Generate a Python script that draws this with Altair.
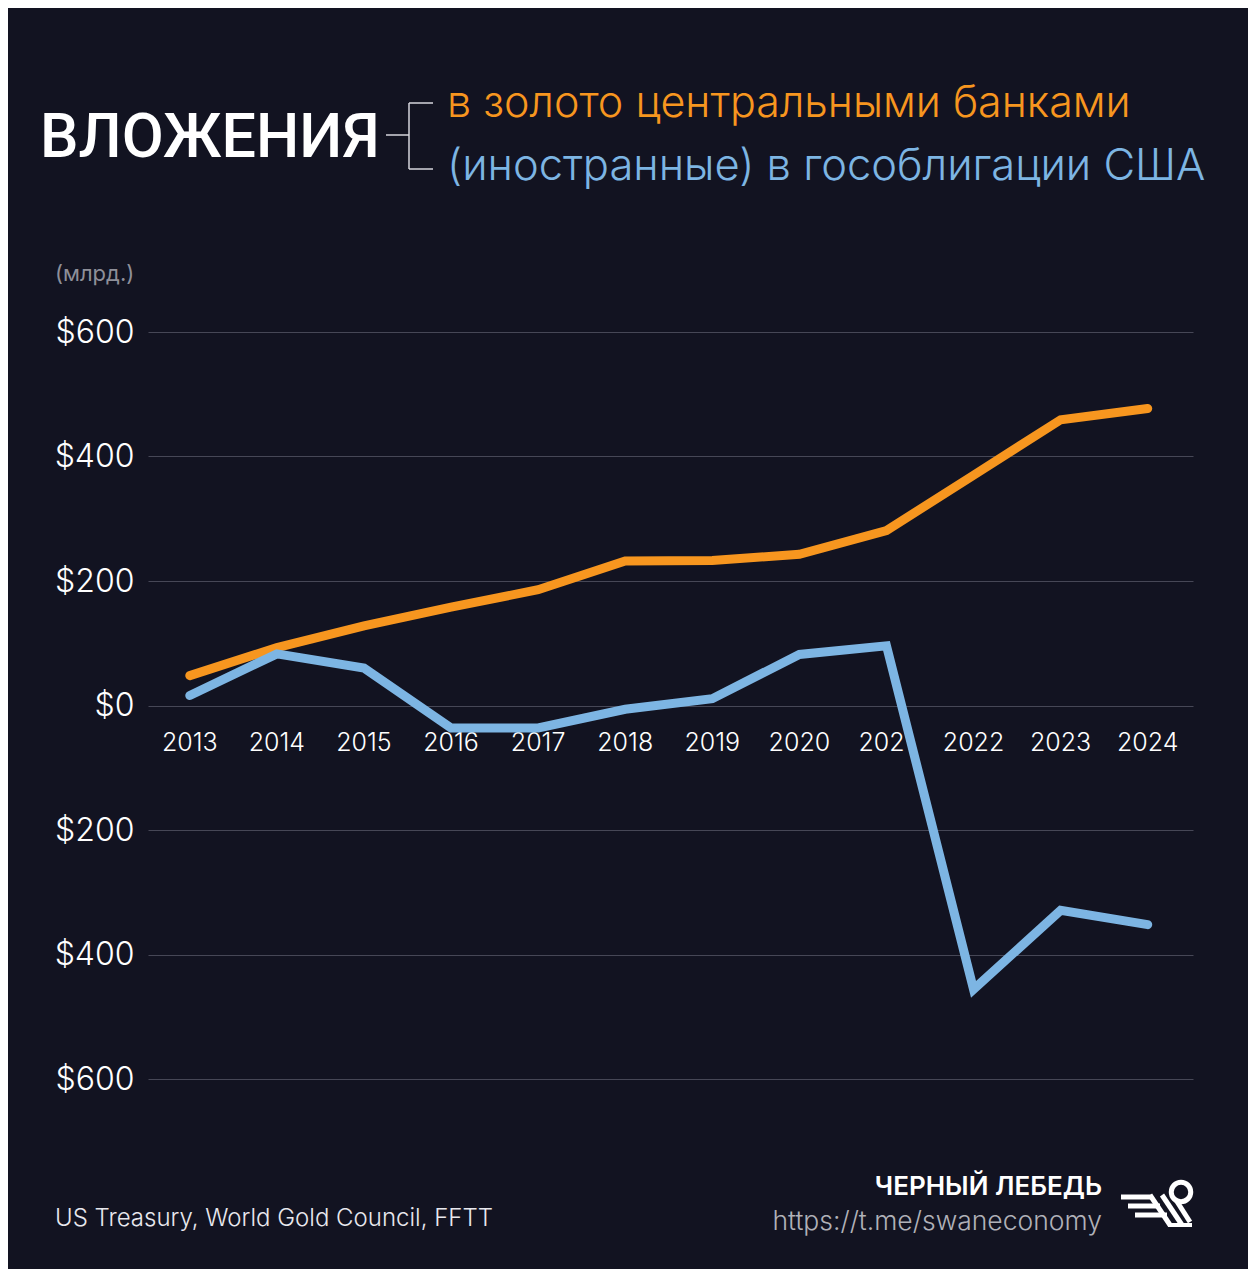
import altair as alt
import pandas as pd

# ---- data ----
years = list(range(2013, 2025))
gold = [48, 93, 128, 158, 186, 232, 233, 243, 281, 370, 459, 477]
treasuries = [16, 83, 60, -36, -36, -6, 11, 82, 96, -456, -329, -352]
series_names = ["в золото центральными банками", "(иностранные) в гособлигации США"]
series_colors = ["#f7961f", "#7db5e3"]
y_ticks = [-600, -400, -200, 0, 200, 400, 600]
year_labels = [str(y) for y in years]

BG = "#121321"
FONT = "Inter"

rows = []
for y, g, t in zip(years, gold, treasuries):
    rows.append({"year": y, "value": g, "series": series_names[0]})
    rows.append({"year": y, "value": t, "series": series_names[1]})
df = pd.DataFrame(rows)

xscale = alt.Scale(domain=[2012.52, 2024.52], nice=False, zero=False)
yscale = alt.Scale(domain=[-600, 600], nice=False, zero=False)

W, H = 1045, 747

axis_layer = alt.Chart(pd.DataFrame({"v": y_ticks})).mark_point(opacity=0).encode(
    y=alt.Y("v:Q", scale=yscale, axis=alt.Axis(
        values=y_ticks, labelExpr="'$' + abs(datum.value)", grid=True,
        gridColor="#464756", gridWidth=1.2, domain=False, ticks=False,
        labelFontSize=32, labelColor="#ffffff", labelFont=FONT, labelFontWeight=300,
        labelPadding=14, title=None)),
)

year_df = pd.DataFrame({"year": years, "label": year_labels})
year_text = alt.Chart(year_df).mark_text(
    fontSize=25, font=FONT, fontWeight=300, color="#ffffff", baseline="middle", align="center"
).encode(
    x=alt.X("year:Q", scale=xscale, axis=None),
    y=alt.value(411),
    text="label:N",
)

lines = alt.Chart(df).mark_line(
    strokeWidth=9, strokeCap="round", strokeJoin="miter"
).encode(
    x=alt.X("year:Q", scale=xscale, axis=None),
    y=alt.Y("value:Q", scale=yscale),
    color=alt.Color("series:N", scale=alt.Scale(domain=series_names, range=series_colors), legend=None),
    detail="series:N",
)


def txt(s, x, y, size, color, weight=400, align="left", baseline="alphabetic", font=FONT):
    return alt.Chart(pd.DataFrame({"t": [s]})).mark_text(
        fontSize=size, font=font, color=color, fontWeight=weight,
        align=align, baseline=baseline
    ).encode(x=alt.value(x), y=alt.value(y), text="t:N")


def rule(x1, y1, x2, y2, color="#d6d6dc", w=1.5):
    return alt.Chart(pd.DataFrame({"a": [0]})).mark_rule(
        color=color, strokeWidth=w
    ).encode(x=alt.value(x1), y=alt.value(y1), x2=alt.value(x2), y2=alt.value(y2))


texts = [
    txt("ВЛОЖЕНИЯ", -108, -175, 61, "#ffffff", weight=500, font="Roboto"),
    txt(series_names[0], 299, -215, 43, series_colors[0], weight=300),
    txt(series_names[1], 299, -152, 43.5, series_colors[1], weight=300),
    txt("(млрд.)", -93, -51, 22, "#8e8f99"),
    txt("US Treasury, World Gold Council, FFTT", -93, 894, 24, "#e8e8ee", weight=300),
    txt("ЧЕРНЫЙ ЛЕБЕДЬ", 954, 863, 26, "#ffffff", weight=600, align="right"),
    txt("https://t.me/swaneconomy", 954, 898, 26.5, "#b0b1b8", weight=300, align="right"),
]

bracket = [
    rule(238, -197, 261, -197),
    rule(261, -229, 261, -163),
    rule(261, -229, 285, -229),
    rule(261, -163, 285, -163),
]

ox, oy = -148, -332
logo = [
    rule(1121 + ox, 1197 + oy, 1152 + ox, 1197 + oy, "#ffffff", 5),
    rule(1128 + ox, 1206 + oy, 1160 + ox, 1206 + oy, "#ffffff", 5),
    rule(1135 + ox, 1215 + oy, 1167 + ox, 1215 + oy, "#ffffff", 5),
    rule(1150 + ox, 1195 + oy, 1170 + ox, 1225 + oy, "#ffffff", 5),
    rule(1162 + ox, 1195 + oy, 1182 + ox, 1225 + oy, "#ffffff", 5),
    rule(1176 + ox, 1200 + oy, 1190 + ox, 1222 + oy, "#ffffff", 5),
    rule(1168 + ox, 1225 + oy, 1192 + ox, 1225 + oy, "#ffffff", 4),
]
ring = alt.Chart(pd.DataFrame({"a": [0]})).mark_point(
    shape="circle", filled=False, stroke="#ffffff", strokeWidth=5, size=380, opacity=1
).encode(x=alt.value(1181 + ox), y=alt.value(1192 + oy))

chart = alt.layer(
    axis_layer, year_text, lines, *texts, *bracket, *logo, ring
).properties(
    width=W, height=H,
    autosize=alt.AutoSizeParams(type="none"),
    padding={"left": 140, "top": 324, "right": 55, "bottom": 190},
    background=BG,
).configure_view(stroke=None)

chart.save("out.html", embed_options={"renderer": "svg", "actions": False})
